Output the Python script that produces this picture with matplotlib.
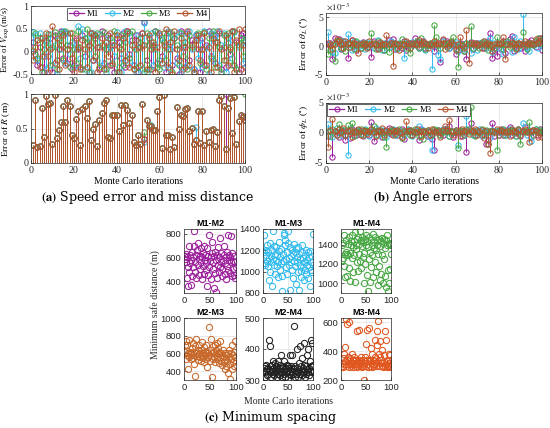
"""
Erros de Monte Carlo: velocidade, distância, ângulos e espaçamento mínimo.
Saída: out.png
"""

from __future__ import annotations

import matplotlib

matplotlib.use("Agg")
import matplotlib.pyplot as plt
import numpy as np
from matplotlib.lines import Line2D

OUTPUT_PLOT = "out.png"
FIG_W, FIG_H = 550, 428
FIG_DPI = 100

SERIES = ("M1", "M2", "M3", "M4")
SERIES_COLORS = {
    "M1": "#9c1f9c",
    "M2": "#33bbee",
    "M3": "#47a843",
    "M4": "#b5532e",
}

# (a) erro de velocidade (m/s)
V_M1 = [0.20, -0.05, -0.30, 0.10, -0.35, -0.45, 0.25, -0.10, 0.30, -0.45, 0.35, -0.20, 0.05, 0.45, -0.15,
        0.40, -0.25, 0.15, -0.40, -0.30, 0.25, 0.05, -0.35, 0.35, -0.10, 0.20, -0.45, 0.40, -0.20, 0.30,
        0.10, -0.40, 0.45, -0.25, 0.05, 0.35, -0.30, 0.15, -0.45, 0.30, 0.20, -0.15, 0.40, -0.35, 0.45,
        -0.05, 0.25, -0.30, 0.35, -0.45, 0.10, 0.40, 0.65, -0.20, 0.30, -0.40, 0.15, 0.45, -0.25, 0.35,
        -0.10, 0.20, -0.45, 0.40, 0.05, -0.30, 0.30, -0.15, -0.50, 0.45, 0.10, -0.35, 0.40, -0.20, 0.25,
        -0.40, 0.35, 0.05, -0.45, 0.30, -0.30, 0.15, 0.45, -0.10, 0.35, -0.25, 0.20, 0.40, -0.40, 0.10,
        -0.35, 0.30, -0.05, 0.45, -0.30, 0.20, -0.45, 0.35, 0.40, -0.35]
V_M2 = [0.42, 0.35, -0.20, 0.40, -0.10, 0.25, -0.40, 0.10, 0.38, -0.30, 0.15, -0.50, 0.30, 0.05, 0.44,
        -0.25, 0.40, -0.05, 0.20, -0.35, 0.10, 0.55, -0.15, 0.50, -0.40, 0.30, 0.05, -0.45, 0.40, 0.35,
        -0.20, 0.38, -0.30, 0.15, -0.45, 0.30, 0.10, 0.20, -0.10, 0.42, -0.35, -0.45, 0.25, 0.45, -0.20,
        0.40, -0.30, 0.10, -0.45, 0.35, 0.20, -0.40, 0.62, -0.45, 0.15, 0.40, -0.30, 0.05, 0.42, -0.20,
        0.30, -0.35, 0.10, 0.45, -0.40, 0.20, 0.35, -0.25, 0.42, -0.45, 0.15, 0.30, -0.30, 0.45, 0.05,
        -0.40, 0.38, -0.15, 0.25, -0.35, 0.45, 0.10, -0.50, 0.40, -0.20, 0.35, 0.45, -0.30, 0.15, 0.40,
        -0.45, 0.20, 0.35, -0.15, 0.42, -0.40, 0.10, 0.30, -0.25, 0.20]
V_M3 = [0.00, 0.40, -0.15, 0.30, -0.45, 0.05, 0.20, 0.38, -0.30, 0.10, 0.42, -0.40, 0.25, 0.40, -0.20,
        0.45, 0.15, -0.35, 0.40, 0.05, -0.25, 0.45, 0.10, -0.40, 0.30, 0.50, -0.45, 0.20, 0.35, -0.10,
        0.40, -0.35, 0.15, 0.42, -0.40, 0.05, 0.30, -0.25, 0.45, -0.45, 0.10, 0.35, -0.30, 0.20, 0.40,
        -0.15, 0.45, -0.40, 0.05, -0.35, 0.30, 0.15, -0.45, 0.40, -0.40, 0.20, 0.10, 0.45, -0.35, -0.40,
        0.25, 0.40, -0.20, 0.05, 0.42, -0.45, 0.30, 0.15, -0.30, 0.40, -0.10, 0.20, -0.40, 0.35, 0.10,
        -0.45, 0.25, 0.40, -0.25, 0.05, 0.42, -0.40, 0.30, -0.15, 0.45, -0.35, 0.20, 0.10, -0.45, 0.35,
        -0.20, 0.40, 0.05, -0.30, 0.45, -0.40, 0.15, 0.30, -0.10, 0.25]
V_M4 = [-0.20, 0.10, 0.25, -0.35, 0.30, -0.10, 0.40, -0.45, 0.05, 0.55, -0.25, 0.30, -0.40, 0.15, 0.35,
        -0.30, 0.05, 0.40, -0.15, -0.45, 0.30, 0.10, -0.40, 0.25, 0.05, -0.35, 0.15, 0.40, -0.20, 0.35,
        -0.45, 0.10, 0.30, -0.40, 0.20, -0.10, 0.40, -0.30, 0.15, 0.35, -0.45, 0.05, 0.30, -0.20, 0.45,
        -0.35, 0.15, -0.40, 0.25, 0.10, -0.30, 0.40, 0.15, -0.40, 0.35, 0.05, 0.20, -0.45, 0.10, 0.40,
        -0.25, 0.15, 0.50, -0.35, 0.20, -0.50, 0.45, 0.05, -0.20, 0.30, -0.40, 0.10, 0.45, -0.30, 0.15,
        -0.45, 0.25, 0.35, -0.20, 0.05, 0.40, -0.30, 0.10, -0.45, 0.30, 0.20, -0.35, 0.45, 0.05, -0.20,
        0.35, -0.30, 0.10, 0.45, -0.45, 0.25, 0.50, -0.40, 0.15, 0.50]

# (a) erro de distância R (m): valor comum + pontos onde M1..M3 diferem de M4
R_M4 = [0.26, 0.91, 0.23, 0.25, 0.80, 0.38, 0.97, 0.86, 0.87, 0.28, 0.99, 0.36, 0.48, 0.59, 0.82, 0.60,
        0.91, 0.83, 0.40, 0.36, 0.64, 0.75, 0.26, 0.78, 0.82, 0.65, 0.90, 0.33, 0.50, 0.56, 0.24, 0.62,
        0.72, 0.87, 0.92, 0.38, 0.36, 0.69, 0.69, 0.69, 0.47, 0.84, 0.55, 0.84, 0.77, 0.58, 0.70, 0.30,
        0.26, 0.40, 0.28, 0.86, 0.35, 0.63, 0.53, 0.53, 0.48, 0.48, 0.75, 0.96, 0.22, 0.98, 0.40, 0.40,
        0.21, 0.37, 0.23, 0.81, 0.50, 0.70, 0.68, 0.78, 0.80, 0.47, 0.51, 0.28, 0.33, 0.75, 0.29, 0.76,
        0.26, 0.47, 0.30, 0.48, 0.49, 0.24, 0.45, 0.91, 0.97, 0.83, 0.21, 0.79, 0.94, 0.43, 0.96, 0.27,
        0.61, 0.69, 0.66, 0.62]
R_OVERRIDES = {
    "M1": {91: 1.00, 99: 0.68},
    "M2": {53: 0.30, 56: 0.55, 77: 0.52},
    "M3": {53: 0.45, 55: 0.55, 73: 0.80, 100: 1.00},
    "M4": {},
}

# (b) erro de theta_L (x1e-3 graus)
TH_M1 = [0.3, 0.5, -2.3, 1.4, 0.8, 1.2, -0.5, 0.9, 0.4, -2.0, 0.6, 1.0, 0.2, -0.6, 0.5, -0.3, 0.7, 0.1,
         0.4, -0.2, -1.9, 0.8, 0.3, -0.4, 0.6, 0.2, -0.7, 0.5, 1.0, 0.3, 1.2, -0.5, 0.4, 0.1, -0.3, 0.8,
         -0.6, 0.2, 0.5, 0.4, 1.3, 0.6, -0.2, 0.7, 0.9, -0.4, 0.3, 0.1, 0.6, -0.8, 0.2, 0.5, -2.7, 1.0,
         0.4, 0.8, -0.3, 0.6, 0.2, -1.4, -0.6, 0.5, 0.3, -0.9, -2.3, 0.4, 0.7, -0.5, 0.2, 0.6, 0.3, 0.5,
         -0.4, 0.1, 0.8, 2.2, -2.0, -0.7, -1.8, 0.4, -0.5, 0.9, -1.2, 0.3, 1.2, 1.7, -0.8, 0.4, 0.6, -0.3,
         0.5, -0.9, 0.2, 0.7, 1.0, 0.3, -0.2, 0.8, 1.3, -0.6]
TH_M2 = [2.4, 0.2, -1.0, -1.2, 0.5, 0.3, -0.4, 0.8, 0.1, 2.1, 0.3, -0.6, 0.9, 0.4, -0.2, 0.6, 0.2, -0.5,
         0.7, 0.3, 0.5, -0.3, 0.4, 1.1, 0.2, -0.6, 0.6, 0.3, -0.2, 0.8, 0.4, 0.1, -0.5, 0.6, 0.2, -2.0,
         0.5, 0.3, -0.4, 0.7, 0.2, 0.9, -0.3, 0.4, 0.6, -0.7, 0.3, 0.2, -4.0, 0.5, 0.1, -1.5, -2.2, 0.8,
         0.3, 0.6, -0.4, 0.2, 0.5, 0.7, -0.8, 0.3, 0.1, -0.5, 0.6, 0.2, -1.2, 0.4, 0.3, -0.6, 0.5, 0.2,
         0.8, -0.3, 0.4, 1.4, -1.0, 0.6, 0.2, -0.4, 0.5, -1.3, 0.3, 0.7, 0.4, -1.0, 1.6, 0.2, -0.5, 0.8,
         5.6, 0.3, -0.4, -0.8, 0.5, 0.2, 0.6, -0.3, 0.4, 1.2]
TH_M3 = [-1.4, -0.6, 0.3, -2.6, 0.8, 1.0, -0.4, 0.5, -0.8, 0.3, 0.6, 0.2, -0.5, 0.9, 0.4, -0.3, 0.2, 0.6,
         -0.2, 0.4, 2.2, 0.3, -0.5, 0.8, 0.2, 0.4, -0.6, 0.3, -1.0, 0.5, 0.2, 0.6, -0.3, 0.4, 1.2, 0.3,
         -0.4, 0.6, -1.2, 0.2, 0.5, 0.8, -0.3, 1.4, 0.4, -0.5, 0.2, 0.6, 0.3, 3.6, 1.5, 0.2, -0.4, 0.6,
         0.3, -0.2, 0.5, 0.8, 1.6, -0.5, -3.6, 0.4, 0.2, -0.8, 0.6, 0.3, 3.4, -0.3, 0.5, 0.2, -0.4, 0.7,
         0.3, 0.5, -0.6, 0.4, 0.2, -0.3, 1.5, 0.6, 0.3, -0.5, 0.4, 0.8, -0.2, 0.3, 0.6, -0.4, 0.5, 0.2,
         2.4, 0.3, -0.5, 0.6, 0.4, 0.2, 0.8, 1.3, 0.5, 1.0]
TH_M4 = [0.5, 0.2, -0.5, 0.3, 1.2, 0.8, 0.4, -0.3, 0.9, 0.6, -0.2, 1.0, 0.5, 0.3, -1.2, 0.4, 0.6, 0.2,
         -0.4, 0.8, 0.3, 0.5, 0.2, -0.5, 0.7, 0.4, 0.3, 1.9, 0.2, 0.6, -3.4, 0.5, 0.3, -0.6, 0.4, 0.2,
         0.8, 0.5, -0.3, 0.6, 0.4, 0.2, 1.0, 0.3, 0.7, 0.5, -0.4, 0.3, 0.2, 0.8, 0.4, 0.6, 0.3, 1.2,
         -0.5, 0.5, 0.2, 0.7, 0.3, -0.6, 0.4, 1.5, 0.2, -0.3, 2.8, -3.0, 0.5, 0.3, 0.6, 0.2, 0.4, -0.4,
         0.8, 0.3, 0.5, 0.2, -0.8, 0.4, 0.6, 0.3, 0.5, 1.6, -2.2, 0.4, 0.2, 0.7, 0.3, -0.5, 0.6, 0.4,
         0.2, 0.8, 0.5, 0.3, 0.6, 0.4, 1.2, 0.5, 0.8, 1.3]

# (b) erro de phi_L (x1e-3 graus)
PH_M1 = [-0.5, 0.3, -4.0, 0.4, 0.2, -0.6, 0.5, 0.3, -1.2, 0.4, -0.8, 0.6, 0.2, -0.3, 0.5, 0.3, -0.5, 0.4,
         0.2, -0.4, 1.8, -1.3, 0.3, 0.5, 0.2, -0.6, 0.4, 0.3, 0.8, -0.2, 0.5, 0.3, -0.4, 0.2, 0.6, -1.0,
         0.4, 0.3, 0.5, -0.3, 0.2, 0.4, -1.2, 0.6, 0.3, 0.2, -0.5, 0.4, -1.0, -2.9, 0.3, 0.5, 0.2, -0.4,
         0.6, 0.3, 1.2, 0.4, -0.6, 0.2, 4.2, 0.3, -0.5, 0.4, -3.2, 0.6, 1.7, 0.3, -0.4, 0.5, 0.2, -0.3,
         0.4, -1.8, -1.2, 0.3, 1.7, -0.5, 0.4, 0.2, 0.6, -0.4, 0.3, 0.5, 1.0, -0.3, 0.4, 0.2, 0.6, -0.5,
         0.3, 1.0, 0.4, 0.2, -0.6, 0.5, 0.3, -0.4, 0.6, 0.2]
PH_M2 = [1.5, 0.4, -0.6, 0.3, 0.8, 0.2, -0.4, 0.5, 0.3, -3.6, 0.6, 0.2, -0.3, 0.4, 0.5, -0.2, 0.3, 0.6,
         0.2, -0.5, 0.4, 0.3, 0.8, -0.4, 0.2, 0.5, 0.3, -0.6, 0.4, 0.2, 0.6, -0.3, 0.5, 0.2, 0.4, -0.4,
         0.3, 0.6, 0.2, -0.5, 0.4, 0.3, 1.2, -0.3, 0.5, 0.2, 0.4, -0.6, -2.9, 0.3, 0.5, 0.2, -0.4, 0.6,
         0.3, 0.2, -0.5, 0.4, 0.3, 0.5, -2.0, 0.3, 0.2, -0.4, 2.8, 0.5, 0.3, -0.3, 0.4, 0.2, 0.6, -0.5,
         0.3, 0.4, 0.2, -0.6, 0.5, 0.3, 0.4, -0.3, 0.2, 0.5, 0.3, -0.4, 0.6, 0.2, 0.4, -0.5, 0.3, 0.2,
         1.7, 0.4, -0.3, 0.5, -1.4, 0.3, 0.6, 0.2, 0.4, 0.3]
PH_M3 = [0.3, -0.5, 0.6, 0.4, -0.3, 1.5, 0.2, 0.5, -0.4, 1.4, 0.3, 1.6, -0.5, 0.4, 0.2, 0.6, -0.3, 0.5,
         0.3, 0.2, 0.6, 1.2, -0.4, 0.3, 0.5, 0.2, -0.6, -2.4, 0.4, 0.3, 0.5, -0.2, 0.4, 0.6, -0.8, 0.3,
         0.2, 0.5, -0.4, 0.3, 0.6, 0.2, -0.5, 0.4, -1.0, 0.3, 0.5, 0.2, -0.4, 0.6, 0.3, 0.5, -0.3, 0.2,
         0.4, 0.6, -0.5, 0.3, 0.2, 0.4, -2.5, 0.5, 0.3, -0.4, 0.6, 0.2, 4.3, 0.3, -0.5, 0.4, 0.2, 0.6,
         -0.3, 0.5, -1.8, 0.3, 0.4, 0.2, -2.8, 0.5, 0.3, 0.6, -0.4, 0.2, 0.5, 0.3, 0.4, -0.5, 0.6, -1.9,
         0.3, 0.2, 0.5, 1.9, 0.4, -0.3, 0.6, 0.2, 0.5, 0.3]
PH_M4 = [-2.4, 0.5, 2.4, 0.3, -0.4, 0.6, 0.2, 0.8, -0.3, 0.4, 0.5, -0.6, 0.3, 0.2, 0.6, -0.4, 0.5, 0.3,
         -0.2, 0.4, 0.6, 0.2, -0.5, 0.3, 0.4, 0.8, -0.3, 0.5, 0.2, 0.6, -0.4, 0.3, 0.5, 0.2, -0.6, 0.4,
         2.0, 0.3, 0.5, -0.3, 0.2, 0.6, 0.4, -0.5, 0.3, 0.2, 0.5, -0.4, 0.6, 0.3, 0.2, 0.4, -0.6, 0.5,
         1.2, 0.3, 2.2, 0.4, -0.3, 0.5, 0.2, -0.5, 0.6, 0.3, 0.4, -0.2, 0.5, 0.3, 0.6, -0.4, 0.2, 0.5,
         -0.8, 0.3, -1.9, -3.3, 0.4, 0.2, 0.6, -0.3, 0.5, 0.3, 0.2, 0.4, -0.5, 0.6, 0.3, 0.2, 0.5, -0.4,
         0.3, 0.6, 0.2, -1.5, 0.4, 0.5, 0.3, -0.6, 0.2, -0.7]

# (c) distância mínima de segurança (m) por par
PAIRS = ("M1-M2", "M1-M3", "M1-M4", "M2-M3", "M2-M4", "M3-M4")
PAIR_COLORS = ("#9c1f9c", "#33bbee", "#47a843", "#c8682a", "#222222", "#e0561f")
D_M1M2 = [610, 590, 560, 630, 600, 430, 520, 360, 700, 480, 550, 620, 580, 370, 440, 650, 520, 600, 700, 820,
          560, 480, 620, 430, 660, 540, 720, 590, 450, 610, 500, 680, 560, 420, 600, 640, 530, 460, 700, 580,
          620, 490, 550, 360, 680, 610, 450, 520, 790, 570, 600, 420, 640, 730, 500, 560, 340, 610, 470, 650,
          310, 580, 430, 620, 540, 690, 480, 600, 760, 520, 560, 640, 440, 500, 580, 700, 620, 460, 550, 600,
          420, 650, 530, 790, 490, 580, 620, 470, 600, 780, 560, 440, 640, 500, 570, 450, 610, 430, 560, 520]
D_M1M3 = [1340, 1180, 1080, 1060, 1200, 1160, 1100, 1250, 1050, 1180, 920, 1130, 1270, 1000, 1150, 1090, 870,
          1200, 1380, 1120, 1060, 1240, 1170, 980, 1110, 1230, 1050, 1160, 1090, 950, 1190, 1280, 1020, 1140,
          1080, 1210, 960, 820, 1170, 1100, 1340, 1360, 1250, 1300, 1120, 1040, 980, 1180, 1380, 1270, 1060,
          1130, 1230, 830, 1150, 1090, 1200, 1020, 940, 1170, 1260, 1100, 1050, 1180, 880, 1220, 1140, 1090,
          1000, 1230, 1170, 830, 1060, 1120, 1010, 950, 1180, 1250, 1040, 1130, 1090, 920, 1020, 1160, 980,
          1200, 1110, 1060, 940, 1180, 1040, 1140, 870, 1190, 1090, 1020, 1000, 1150, 1060, 1350]
D_M1M4 = [1390, 1240, 1260, 1420, 1500, 1180, 1300, 1060, 1450, 1320, 1080, 1300, 1410, 1290, 1160, 1480,
          1020, 1310, 1390, 1440, 1500, 1260, 1370, 1120, 1440, 1290, 1530, 1010, 1400, 1350, 1460, 1220,
          1130, 1480, 1300, 1410, 1540, 1230, 1450, 1160, 1380, 1480, 1270, 1430, 1000, 1310, 1460, 1200,
          1390, 1500, 1090, 1440, 920, 1370, 1250, 1480, 1010, 1320, 1450, 1170, 1400, 1290, 1510, 1060,
          1360, 1430, 1220, 1480, 1340, 1120, 1450, 1400, 1300, 980, 1180, 1460, 1380, 1030, 1440, 1100,
          1470, 1290, 1000, 1420, 1250, 1460, 1360, 1080, 1450, 960, 1500, 1390, 920, 1140, 1410, 1000,
          1420, 1150, 1300, 1400]
D_M2M3 = [620, 700, 540, 740, 580, 690, 420, 610, 560, 750, 620, 590, 540, 600, 660, 580, 720, 550, 620, 480,
          680, 340, 600, 760, 570, 640, 530, 590, 700, 560, 610, 520, 640, 580, 730, 550, 600, 500, 670, 580,
          620, 540, 700, 450, 620, 560, 600, 900, 580, 520, 640, 760, 330, 600, 680, 540, 620, 560, 700, 500,
          640, 580, 720, 540, 660, 600, 620, 490, 560, 740, 600, 520, 580, 470, 640, 500, 560, 420, 600, 540,
          460, 520, 580, 610, 380, 640, 560, 480, 310, 600, 540, 700, 420, 580, 500, 620, 460, 560, 740, 520]
D_M2M4 = [340, 325, 345, 310, 330, 350, 315, 335, 320, 340, 430, 330, 410, 345, 325, 310, 335, 350, 320, 360,
          340, 315, 330, 355, 325, 345, 310, 335, 360, 320, 340, 330, 315, 350, 325, 380, 310, 340, 330, 345,
          320, 360, 335, 310, 340, 325, 350, 330, 305, 345, 320, 340, 380, 330, 315, 345, 325, 380, 340, 320,
          475, 335, 310, 345, 330, 320, 400, 340, 325, 310, 355, 335, 320, 410, 345, 330, 315, 370, 340, 325,
          420, 350, 330, 310, 345, 320, 380, 335, 325, 400, 340, 315, 330, 360, 430, 345, 325, 420, 350, 330]
D_M3M4 = [320, 300, 350, 290, 380, 310, 430, 330, 620, 300, 340, 590, 310, 360, 290, 600, 330, 350, 300, 320,
          380, 310, 340, 290, 330, 360, 310, 340, 300, 320, 540, 290, 330, 310, 550, 340, 300, 320, 360, 330,
          290, 310, 340, 300, 200, 320, 360, 330, 450, 300, 550, 340, 310, 290, 330, 560, 300, 340, 420, 320,
          290, 380, 310, 340, 300, 330, 480, 360, 320, 300, 540, 440, 330, 610, 380, 300, 470, 360, 320, 340,
          300, 410, 320, 290, 370, 330, 300, 540, 310, 480, 330, 290, 300, 340, 320, 380, 290, 370, 310, 300]
PAIR_YLIMS = ((300, 840), (800, 1400), (900, 1560), (300, 1000), (300, 500), (200, 630))
PAIR_YTICKS = ((400, 600, 800), (800, 1000, 1200, 1400), (1000, 1200, 1400),
               (400, 600, 800, 1000), (300, 400, 500), (200, 400, 600))

SERIF = "Liberation Serif"
SANS = "Liberation Sans"

plt.rcParams["font.family"] = SERIF
plt.rcParams["mathtext.fontset"] = "stix"
plt.rcParams["axes.unicode_minus"] = False


def px_axes(fig, left, right, top, bottom):
    return fig.add_axes([left / FIG_W, 1 - bottom / FIG_H, (right - left) / FIG_W, (bottom - top) / FIG_H])


def style_axes(ax, font=SERIF, size=7.2):
    ax.tick_params(direction="in", length=2.5, width=0.5, labelsize=size, pad=2, colors="#262626")
    for lab in ax.get_xticklabels() + ax.get_yticklabels():
        lab.set_fontfamily(font)
    for sp in ax.spines.values():
        sp.set_linewidth(0.5)
        sp.set_color("#262626")
    ax.grid(True, color="#d9d9d9", linewidth=0.4)
    ax.set_axisbelow(True)


def draw_stems(ax, values_by_series, ms=3.8, lw=0.75):
    for name in SERIES:
        vals = np.asarray(values_by_series[name], dtype=float)
        x = np.arange(1, len(vals) + 1)
        color = SERIES_COLORS[name]
        ax.vlines(x, 0, vals, color=color, linewidth=lw)
        ax.plot(x, vals, "o", mfc="none", mec=color, ms=ms, mew=0.75)


def legend_handles():
    return [
        Line2D([], [], color=SERIES_COLORS[n], lw=0.9, marker="o", mfc="none", ms=3.6, mew=0.75, label=n)
        for n in SERIES
    ]


def add_legend(ax, **kw):
    leg = ax.legend(handles=legend_handles(), ncol=4, fontsize=6.3, handlelength=1.7, handletextpad=0.35,
                    columnspacing=0.7, borderpad=0.2, fancybox=False, framealpha=1, edgecolor="#262626",
                    **kw)
    leg.get_frame().set_linewidth(0.5)
    return leg


def r_series(name):
    vals = list(R_M4)
    for it, v in R_OVERRIDES[name].items():
        vals[it - 1] = v
    return vals


def main() -> None:
    fig = plt.figure(figsize=(FIG_W / FIG_DPI, FIG_H / FIG_DPI), dpi=FIG_DPI)

    # (a) velocidade
    ax = px_axes(fig, 31, 245, 6, 74)
    draw_stems(ax, {"M1": V_M1, "M2": V_M2, "M3": V_M3, "M4": V_M4})
    ax.set_xlim(0, 100)
    ax.set_ylim(-0.5, 1)
    ax.set_xticks(range(0, 101, 20))
    ax.set_yticks([-0.5, 0, 0.5, 1])
    ax.set_yticklabels(["-0.5", "0", "0.5", "1"])
    ax.set_ylabel(r"Error of $V_{\rm exp}$ (m/s)", fontsize=6.3, labelpad=1)
    style_axes(ax)
    add_legend(ax, loc="upper center", bbox_to_anchor=(0.5, 0.985), borderaxespad=0.1)

    ax = px_axes(fig, 31, 245, 94, 163)
    draw_stems(ax, {n: r_series(n) for n in SERIES}, lw=0.7)
    ax.set_xlim(0, 100)
    ax.set_ylim(0, 1)
    ax.set_xticks(range(0, 101, 20))
    ax.set_yticks([0, 0.5, 1])
    ax.set_yticklabels(["0", "0.5", "1"])
    ax.set_ylabel(r"Error of $R$ (m)", fontsize=6.8, labelpad=3)
    ax.set_xlabel("Monte Carlo iterations", fontsize=7, labelpad=1.5)
    style_axes(ax)

    # (b) ângulos
    ax = px_axes(fig, 326, 542, 13, 75)
    draw_stems(ax, {"M1": TH_M1, "M2": TH_M2, "M3": TH_M3, "M4": TH_M4})
    ax.set_xlim(0, 100)
    ax.set_ylim(-5, 5.7)
    ax.set_xticks(range(0, 101, 20))
    ax.set_yticks([-5, 0, 5])
    ax.set_yticklabels(["-5", "0", "5"])
    ax.set_ylabel(r"Error of $\theta_L$ ($^{\circ}$)", fontsize=6.8, labelpad=3)
    ax.text(0.0, 1.01, r"$\times10^{-3}$", transform=ax.transAxes, fontsize=6.5, ha="left", va="bottom",
            color="#262626")
    style_axes(ax)

    ax = px_axes(fig, 326, 542, 103, 163)
    draw_stems(ax, {"M1": PH_M1, "M2": PH_M2, "M3": PH_M3, "M4": PH_M4})
    ax.set_xlim(0, 100)
    ax.set_ylim(-5, 5)
    ax.set_xticks(range(0, 101, 20))
    ax.set_yticks([-5, 0, 5])
    ax.set_yticklabels(["-5", "0", "5"])
    ax.set_ylabel(r"Error of $\phi_L$ ($^{\circ}$)", fontsize=6.8, labelpad=3)
    ax.set_xlabel("Monte Carlo iterations", fontsize=7, labelpad=1.5)
    ax.text(0.0, 1.01, r"$\times10^{-3}$", transform=ax.transAxes, fontsize=6.5, ha="left", va="bottom",
            color="#262626")
    style_axes(ax)
    add_legend(ax, loc="upper left", bbox_to_anchor=(0.0, 1.0), borderaxespad=0.15)

    # (c) espaçamento mínimo
    pair_data = (D_M1M2, D_M1M3, D_M1M4, D_M2M3, D_M2M4, D_M3M4)
    cols = ((184, 236), (263, 313), (341, 391))
    rows = ((229, 293), (318, 380))
    for k, (name, vals, color) in enumerate(zip(PAIRS, pair_data, PAIR_COLORS)):
        (l, r), (t, b) = cols[k % 3], rows[k // 3]
        ax = px_axes(fig, l, r, t, b)
        x = np.arange(1, len(vals) + 1)
        ax.plot(x, vals, "o", mfc="none", mec=color, ms=4.5, mew=0.75)
        ax.set_xlim(0, 100)
        ax.set_ylim(*PAIR_YLIMS[k])
        ax.set_xticks([0, 50, 100])
        ax.set_yticks(PAIR_YTICKS[k])
        ax.set_title(name, fontsize=6.5, fontweight="bold", fontfamily=SANS, pad=2)
        style_axes(ax, font=SANS, size=6.8)

    fig.text(155 / FIG_W, 1 - 305 / FIG_H, "Minimum safe distance (m)", rotation=90, fontsize=7,
             ha="center", va="center", color="#262626")
    fig.text(288 / FIG_W, 1 - 401 / FIG_H, "Monte Carlo iterations", fontsize=7, ha="center", va="center",
             color="#262626")

    # legendas das figuras
    cap_kw = dict(fontsize=9, ha="center", va="center", fontfamily="DejaVu Serif")
    fig.text(148 / FIG_W, 1 - 198 / FIG_H, r"$\mathbf{(a)}$ Speed error and miss distance", **cap_kw)
    fig.text(423 / FIG_W, 1 - 198 / FIG_H, r"$\mathbf{(b)}$ Angle errors", **cap_kw)
    fig.text(271 / FIG_W, 1 - 418 / FIG_H, r"$\mathbf{(c)}$ Minimum spacing", **cap_kw)

    fig.savefig(OUTPUT_PLOT, dpi=FIG_DPI)
    plt.close(fig)


if __name__ == "__main__":
    main()
